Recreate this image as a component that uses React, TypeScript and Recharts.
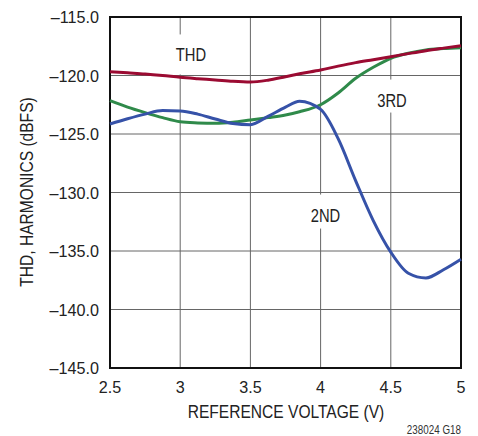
import { LineChart, Line, XAxis, YAxis, CartesianGrid, ReferenceArea, ReferenceDot } from "recharts"

const voltage = [2.5, 2.625, 2.75, 2.875, 3, 3.125, 3.25, 3.375, 3.5, 3.625, 3.75, 3.85, 4, 4.125, 4.25, 4.375, 4.5, 4.625, 4.75, 4.875, 5]
const thd = [-119.67, -119.77, -119.87, -120.0, -120.15, -120.27, -120.38, -120.5, -120.56, -120.4, -120.1, -119.85, -119.53, -119.2, -118.9, -118.65, -118.39, -118.13, -117.88, -117.66, -117.45]
const third = [-122.15, -122.7, -123.17, -123.6, -123.95, -124.05, -124.09, -124.0, -123.8, -123.6, -123.38, -123.1, -122.5, -121.5, -120.24, -119.3, -118.53, -118.1, -117.82, -117.7, -117.62]
const second = [-124.15, -123.7, -123.3, -123.0, -123.03, -123.3, -123.72, -124.1, -124.2, -123.5, -122.7, -122.2, -122.9, -125.4, -129.0, -132.4, -135.1, -136.9, -137.3, -136.6, -135.7]

const xTicks = [2.5, 3, 3.5, 4, 4.5, 5]
const yTicks = [-145, -140, -135, -130, -125, -120, -115]

const curveLabels = [
  { text: "THD", x: 3.077, y: -118.2, top: 20, bottom: 20 },
  { text: "3RD", x: 4.508, y: -122.14, top: 21, bottom: 12 },
  { text: "2ND", x: 4.035, y: -131.97, top: 21, bottom: 13 },
]

const data = voltage.map((v, i) => ({ v, thd: thd[i], third: third[i], second: second[i] }))

const font = "'Liberation Sans', Arial, sans-serif"
const squeeze = "scale(0.82,1)"
const tickSqueeze = "scale(0.95,1)"

function fmtY(v: number) {
  return v.toFixed(1).replace("-", "\u2013")
}

const XTick = (p: any) => (
  <g transform={`translate(${p.x},${p.y})`}>
    <text transform={tickSqueeze} textAnchor="middle" dy="0.71em" fontSize={17} fill="#222" fontFamily={font}>
      {String(p.payload.value)}
    </text>
  </g>
)

const YTick = (p: any) => (
  <g transform={`translate(${p.x},${p.y})`}>
    <text transform={tickSqueeze} textAnchor="end" dy="0.355em" fontSize={17} fill="#222" fontFamily={font}>
      {fmtY(p.payload.value)}
    </text>
  </g>
)

export default function App() {
  return (
    <div style={{ position: "relative", width: 478, height: 436, background: "#fff" }}>
      <style>{"body{margin:0}"}</style>
      <LineChart width={478} height={436} data={data} margin={{ top: 17, right: 17, left: 0, bottom: 0 }}>
        <CartesianGrid stroke="#666" strokeWidth={1} horizontalValues={yTicks} verticalValues={xTicks} />
        <XAxis
          dataKey="v"
          type="number"
          domain={[2.5, 5]}
          ticks={xTicks}
          axisLine={false}
          tickLine={false}
          tickSize={0}
          tickMargin={13}
          height={68}
          tick={XTick}
        />
        <YAxis
          type="number"
          domain={[-145, -115]}
          ticks={yTicks}
          axisLine={false}
          tickLine={false}
          tickSize={0}
          tickMargin={11}
          width={110}
          tick={YTick}
        />
        {curveLabels.map((l) => (
          <ReferenceDot
            key={l.text}
            x={l.x}
            y={l.y}
            r={0}
            shape={(p: any) => (
              <g>
                <rect x={p.cx - 18} y={p.cy - l.top} width={36} height={l.top + l.bottom} fill="#fff" />
                <g transform={`translate(${p.cx},${p.cy})`}>
                  <text transform={squeeze} textAnchor="middle" dy="0.355em" fontSize={18} fill="#222" fontFamily={font}>
                    {l.text}
                  </text>
                </g>
              </g>
            )}
          />
        ))}
        <Line dataKey="third" type="monotone" stroke="#2f8a4a" strokeWidth={3} dot={false} isAnimationActive={false} />
        <Line dataKey="second" type="monotone" stroke="#3652a8" strokeWidth={3} dot={false} isAnimationActive={false} />
        <Line dataKey="thd" type="monotone" stroke="#9b0b32" strokeWidth={3} dot={false} isAnimationActive={false} />
        <ReferenceArea x1={2.5} x2={5} y1={-145} y2={-115} fill="none" stroke="#111" strokeWidth={2} />
      </LineChart>
      <svg width={478} height={436} style={{ position: "absolute", left: 0, top: 0, pointerEvents: "none" }}>
        <g transform="translate(286,411)">
          <text transform={squeeze} textAnchor="middle" dy="0.355em" fontSize={19} fill="#222" fontFamily={font}>
            REFERENCE VOLTAGE (V)
          </text>
        </g>
        <g transform="translate(26,192) rotate(-90)">
          <text transform={squeeze} textAnchor="middle" dy="0.355em" fontSize={19} fill="#222" fontFamily={font}>
            THD, HARMONICS (dBFS)
          </text>
        </g>
        <g transform="translate(461,434)">
          <text transform={squeeze} textAnchor="end" fontSize={12} fill="#333" fontFamily={font}>
            238024 G18
          </text>
        </g>
      </svg>
    </div>
  )
}
